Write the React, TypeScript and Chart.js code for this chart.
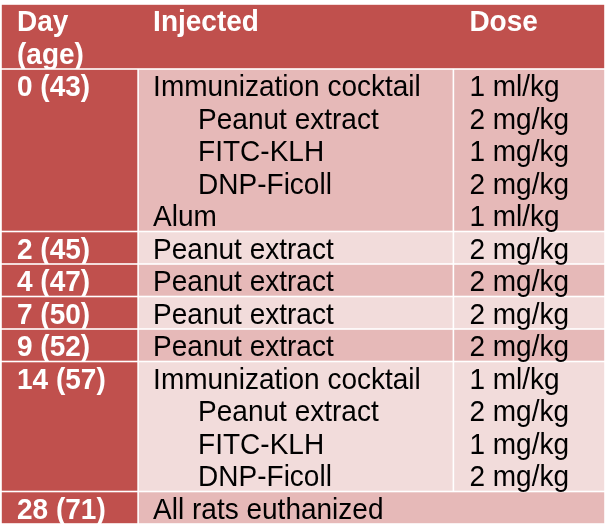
import React, { useEffect, useRef } from "react";
import { Chart, registerables } from "chart.js";

Chart.register(...registerables);

// ---- data ----
const headers: string[][] = [["Day", "(age)"], ["Injected"], ["Dose"]];
const days: string[] = ["0 (43)", "2 (45)", "4 (47)", "7 (50)", "9 (52)", "14 (57)", "28 (71)"];
const injected: string[][] = [
  ["Immunization cocktail", "Peanut extract", "FITC-KLH", "DNP-Ficoll", "Alum"],
  ["Peanut extract"],
  ["Peanut extract"],
  ["Peanut extract"],
  ["Peanut extract"],
  ["Immunization cocktail", "Peanut extract", "FITC-KLH", "DNP-Ficoll"],
  ["All rats euthanized"],
];
const indents: number[][] = [
  [0, 1, 1, 1, 0],
  [0],
  [0],
  [0],
  [0],
  [0, 1, 1, 1],
  [0],
];
const doses: string[][] = [
  ["1 ml/kg", "2 mg/kg", "1 mg/kg", "2 mg/kg", "1 ml/kg"],
  ["2 mg/kg"],
  ["2 mg/kg"],
  ["2 mg/kg"],
  ["2 mg/kg"],
  ["1 ml/kg", "2 mg/kg", "1 mg/kg", "2 mg/kg"],
  [],
];

// ---- layout / style ----
const COL_EDGES = [0, 22.7, 74.9, 100];
const TOTAL_LINES = headers[0].length + injected.reduce((s, r) => s + r.length, 0);
const DARK = "#C0504D";
const MID = "#E6B9B8";
const LIGHT = "#F2DCDB";
const FONT = "Liberation Sans, Arial, sans-serif";
const FONT_SIZE = 28;
const STRETCH = 1.05;
const GAP = 0.8;
const PAD = [16, 15, 16];
const INDENT = 45;
const BASELINE = 27;

const tablePlugin = {
  id: "tablePlugin",
  afterDraw(chart: any) {
    const ctx = chart.ctx as CanvasRenderingContext2D;
    const xs = chart.scales.x;
    const ys = chart.scales.y;
    const px = (v: number) => xs.getPixelForValue(v);
    const py = (v: number) => ys.getPixelForValue(v);
    const rect = (c0: number, c1: number, l0: number, l1: number, color: string) => {
      const x0 = px(COL_EDGES[c0]) + GAP;
      const x1 = px(COL_EDGES[c1]) - GAP;
      const y0 = py(l0) + GAP;
      const y1 = py(l1) - GAP;
      ctx.fillStyle = color;
      ctx.fillRect(x0, y0, x1 - x0, y1 - y0);
    };
    const text = (s: string, col: number, line: number, extra: number, bold: boolean, color: string) => {
      ctx.save();
      ctx.font = `${bold ? "bold " : ""}${FONT_SIZE}px ${FONT}`;
      ctx.fillStyle = color;
      ctx.textBaseline = "alphabetic";
      ctx.textAlign = "left";
      ctx.translate(px(COL_EDGES[col]) + PAD[col] + extra, py(line) + BASELINE);
      ctx.scale(1, STRETCH);
      ctx.fillText(s, 0, 0);
      ctx.restore();
    };
    ctx.save();
    // header
    const hLines = headers[0].length;
    rect(0, 3, 0, hLines, DARK);
    headers.forEach((h, c) => h.forEach((s, i) => text(s, c, i, 0, true, "#FFFFFF")));
    // body
    let line = hLines;
    days.forEach((d, r) => {
      const n = injected[r].length;
      const band = r % 2 === 0 ? MID : LIGHT;
      rect(0, 1, line, line + n, DARK);
      if (doses[r].length === 0) {
        rect(1, 3, line, line + n, band);
      } else {
        rect(1, 2, line, line + n, band);
        rect(2, 3, line, line + n, band);
      }
      text(d, 0, line, 0, true, "#FFFFFF");
      injected[r].forEach((s, i) => text(s, 1, line + i, indents[r][i] * INDENT, false, "#000000"));
      doses[r].forEach((s, i) => text(s, 2, line + i, 0, false, "#000000"));
      line += n;
    });
    ctx.restore();
  },
};

export default function App() {
  const ref = useRef<HTMLCanvasElement | null>(null);
  useEffect(() => {
    document.body.style.margin = "0";
    if (!ref.current) return;
    const chart = new Chart(ref.current, {
      type: "scatter",
      data: { datasets: [] },
      options: {
        animation: false,
        responsive: true,
        maintainAspectRatio: false,
        layout: { padding: { left: 1, top: 4, right: 2, bottom: 3 } },
        plugins: { legend: { display: false }, tooltip: { enabled: false } },
        scales: {
          x: { type: "linear", min: 0, max: 100, display: false },
          y: { type: "linear", min: 0, max: TOTAL_LINES, reverse: true, display: false },
        },
      },
      plugins: [tablePlugin],
    });
    return () => chart.destroy();
  }, []);
  return (
    <div style={{ width: 607, height: 527, position: "relative" }}>
      <canvas ref={ref} />
    </div>
  );
}
